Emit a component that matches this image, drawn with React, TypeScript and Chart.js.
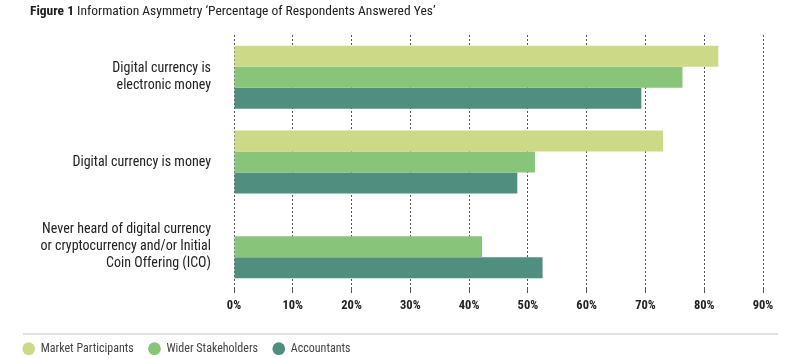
import React, { useEffect, useRef } from "react";
import { Chart, registerables } from "chart.js";

Chart.register(...registerables);

const categories: (string | string[])[] = [
  ["Digital currency is", "electronic money"],
  "Digital currency is money",
  ["Never heard of digital currency", "or cryptocurrency and/or Initial", "Coin Offering (ICO)"],
];
const marketParticipants: (number | null)[] = [82.4, 73.0, null];
const widerStakeholders: (number | null)[] = [76.3, 51.2, 42.2];
const accountants: (number | null)[] = [69.3, 48.2, 52.5];
const seriesNames = ["Market Participants", "Wider Stakeholders", "Accountants"];
const seriesColors = ["#ccd986", "#88c47a", "#508f80"];
const xTicks = [0, 10, 20, 30, 40, 50, 60, 70, 80, 90];
const titleBold = "Figure 1";
const titleRest = " Information Asymmetry \u2018Percentage of Respondents Answered Yes\u2019";

function pickFont(cands: string[], fallback: string): string {
  const c = document.createElement("canvas").getContext("2d");
  if (!c) return fallback;
  const s = "mmmmmmmmmmlliiWWgq0123456789";
  for (const f of cands) {
    for (const base of ["monospace", "serif"]) {
      c.font = `40px ${base}`;
      const w0 = c.measureText(s).width;
      c.font = `40px '${f}', ${base}`;
      const w1 = c.measureText(s).width;
      if (Math.abs(w0 - w1) > 0.5) return f;
    }
  }
  return fallback;
}

export default function App() {
  const ref = useRef<HTMLCanvasElement>(null);
  useEffect(() => {
    if (!ref.current) return;
    const fam = pickFont(
      [
        "Roboto Condensed",
        "Liberation Sans Narrow",
        "Noto Sans Condensed",
        "DejaVu Sans Condensed",
        "Open Sans Condensed",
        "Noto Sans SemiCondensed",
      ],
      "Roboto"
    );
    const FONT = `'${fam}', 'Roboto', sans-serif`;
    const stretch = (chart: any) => {
      try {
        (chart.ctx as any).fontStretch = "condensed";
      } catch (e) {}
    };
    const decorPlugin = {
      id: "decor",
      beforeUpdate: stretch,
      beforeLayout: stretch,
      beforeDraw: stretch,
      afterDraw(chart: any) {
        const ctx = chart.ctx;
        ctx.save();
        stretch(chart);
        ctx.textBaseline = "middle";
        ctx.fillStyle = "#222";
        ctx.font = `bold 13.5px ${FONT}`;
        ctx.fillText(titleBold, 30, 12);
        const w = ctx.measureText(titleBold).width;
        ctx.font = `13.5px ${FONT}`;
        ctx.fillText(titleRest, 30 + w, 12);
        ctx.fillStyle = "#e3e3e3";
        ctx.fillRect(23, 333, 755, 2);
        ctx.restore();
      },
    };
    const chart = new Chart(ref.current, {
      type: "bar",
      data: {
        labels: categories,
        datasets: [
          { label: seriesNames[0], data: marketParticipants, backgroundColor: seriesColors[0] },
          { label: seriesNames[1], data: widerStakeholders, backgroundColor: seriesColors[1] },
          { label: seriesNames[2], data: accountants, backgroundColor: seriesColors[2] },
        ],
      },
      options: {
        indexAxis: "y",
        animation: false,
        responsive: false,
        maintainAspectRatio: false,
        layout: { padding: { top: 35, right: 37, left: 8, bottom: 0 } },
        datasets: { bar: { categoryPercentage: 0.745, barPercentage: 1.0 } },
        scales: {
          x: {
            min: 0,
            max: 90,
            afterBuildTicks: (s: any) => {
              s.ticks = xTicks.map((v) => ({ value: v }));
            },
            afterFit: (s: any) => {
              s.height = 39;
            },
            border: { display: false, dash: [2, 2] },
            grid: {
              color: "#555",
              lineWidth: 1,
              tickLength: 4,
              drawTicks: true,
            },
            ticks: {
              callback: (v: any) => `${v}%`,
              color: "#222",
              font: { family: FONT, size: 12.5, weight: "bold" },
              padding: 5,
            },
          },
          y: {
            afterFit: (s: any) => {
              s.width = 226;
              s.paddingTop = 0;
              s.paddingBottom = 0;
            },
            border: { display: false },
            grid: { display: false, drawTicks: false },
            ticks: {
              color: "#222",
              font: { family: FONT, size: 14, lineHeight: 1.2 },
              padding: 23,
            },
          },
        },
        plugins: {
          legend: {
            position: "bottom",
            align: "start",
            maxHeight: 30,
            labels: {
              usePointStyle: true,
              pointStyle: "circle",
              boxWidth: 12,
              boxHeight: 9,
              padding: 14.7,
              color: "#444",
              font: { family: FONT, size: 12 },
            },
          },
          tooltip: { enabled: false },
        },
      },
      plugins: [decorPlugin],
    } as any);
    return () => chart.destroy();
  }, []);
  return (
    <div style={{ position: "absolute", left: 0, top: 0, width: 800, height: 358, background: "#fff" }}>
      <canvas ref={ref} width={800} height={358} style={{ width: 800, height: 358 }} />
    </div>
  );
}
